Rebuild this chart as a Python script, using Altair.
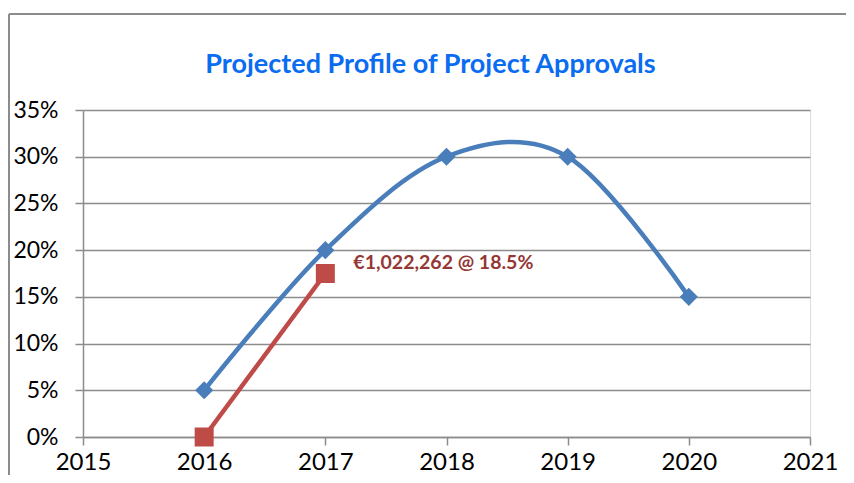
import altair as alt
import pandas as pd

# Data
years_blue = [2016, 2017, 2018, 2019, 2020]
vals_blue = [0.05, 0.20, 0.30, 0.30, 0.15]
years_red = [2016, 2017]
vals_red = [0.0, 0.175]
label_year = [2017]
label_val = [0.185]
label_text = ["€1,022,262 @ 18.5%"]
x_ticks = [2015, 2016, 2017, 2018, 2019, 2020, 2021]
y_ticks = [0, 0.05, 0.10, 0.15, 0.20, 0.25, 0.30, 0.35]

blue = pd.DataFrame({"year": years_blue, "value": vals_blue})
red = pd.DataFrame({"year": years_red, "value": vals_red})
lab = pd.DataFrame({"year": label_year, "value": label_val, "text": label_text})

BLUE = "#4A7EBB"
RED = "#BE4B48"
GRID = "#8C8C8C"
FONT = "Lato"

x_enc = alt.X("year:Q", scale=alt.Scale(domain=[2015, 2021], nice=False),
              axis=alt.Axis(values=x_ticks, format="d", title=None, grid=False,
                            labelFontSize=24, labelFont=FONT, labelColor="#000000",
                            labelPadding=5, tickSize=8, tickColor=GRID, tickWidth=1.5,
                            domainColor=GRID, domainWidth=1.5, labelFlush=False))
y_enc = alt.Y("value:Q", scale=alt.Scale(domain=[0, 0.35], nice=False),
              axis=alt.Axis(values=y_ticks, format=".0%", title=None, grid=True,
                            gridColor=GRID, gridWidth=1.5,
                            labelFontSize=23, labelFont=FONT, labelColor="#000000",
                            labelPadding=17, tickSize=8, tickColor=GRID, tickWidth=1.5,
                            domainColor=GRID, domainWidth=1.5))

blue_line = alt.Chart(blue).mark_line(
    color=BLUE, strokeWidth=4.5, interpolate="cardinal", tension=0
).encode(x=x_enc, y=y_enc)
blue_pts = alt.Chart(blue).mark_point(
    shape="diamond", filled=True, size=330, color=BLUE, opacity=1
).encode(x="year:Q", y="value:Q")
red_line = alt.Chart(red).mark_line(color=RED, strokeWidth=4.5).encode(x="year:Q", y="value:Q")
red_pts = alt.Chart(red).mark_point(
    shape="square", filled=True, size=361, color=RED, opacity=1
).encode(x="year:Q", y="value:Q")
label = alt.Chart(lab).mark_text(
    align="left", baseline="middle", dx=28, dy=-1, fontSize=19.5, fontWeight="bold",
    font=FONT, color="#953735"
).encode(x="year:Q", y="value:Q", text="text:N")

frame = alt.Data(values=[{}])
left_border = alt.Chart(frame).mark_rule(color=GRID, strokeWidth=2).encode(
    x=alt.value(-74), y=alt.value(-96), y2=alt.value(370))
top_border = alt.Chart(frame).mark_rule(color=GRID, strokeWidth=2).encode(
    x=alt.value(-74), x2=alt.value(790), y=alt.value(-96))

chart = alt.layer(left_border, top_border, blue_line, red_line, blue_pts, red_pts, label).properties(
    width=727, height=327,
    title=alt.TitleParams("Projected Profile of Project Approvals", font=FONT, fontSize=27,
                          fontWeight="bold", color="#0A6CF0", anchor="middle", frame="group",
                          dx=-16, dy=87, offset=0, baseline="alphabetic"),
    autosize=alt.AutoSizeParams(type="none"),
    padding={"left": 75, "top": 102, "right": 36, "bottom": 38},
).configure_view(stroke=None).configure(background="white")

chart.save("out.html", embed_options={"renderer": "svg", "actions": False})
